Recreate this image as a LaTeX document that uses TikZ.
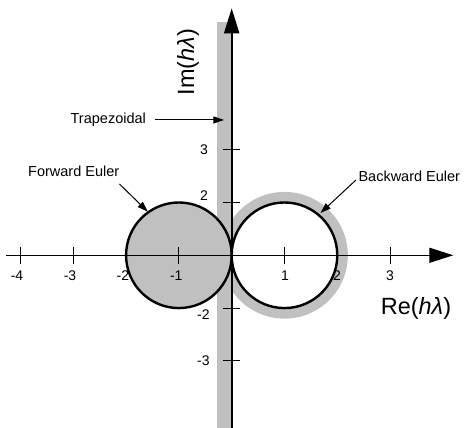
\documentclass[tikz,border=0pt]{standalone}
\usepackage{fontspec}
\setmainfont{Liberation Sans}
\usetikzlibrary{arrows.meta}
\definecolor{regiongray}{RGB}{192,192,192}
\tikzset{
  lbl/.style={inner sep=0pt, font=\fontsize{14.5}{17}\selectfont},
  num/.style={inner sep=0pt, font=\fontsize{14}{16}\selectfont},
  axlbl/.style={inner sep=0pt, font=\fontsize{23.5}{27}\selectfont},
  tickline/.style={line width=1pt},
  pointer/.style={line width=1pt, -{Triangle[length=10.5pt,width=7pt]}},
  boundary/.style={line width=2.4pt, draw=black}
}
\begin{document}
\begin{tikzpicture}[x=52.8pt,y=52.8pt]
\useasboundingbox (-4.388,-3.271) rectangle (4.419,4.835);
% stable regions
\fill[regiongray] (1,0) circle (1.2);
\fill[white] (1,0) circle (1);
\fill[regiongray] (-0.28,-3.4) rectangle (0,4.424);
\filldraw[boundary, fill=regiongray] (-1,0) circle (1);
\draw[boundary] (1,0) circle (1);
% axes
\coordinate (xs) at (-4.275,0);
\coordinate (xe) at (4.197,0);
\coordinate (ys) at (0,-3.4);
\coordinate (ye) at (0,4.678);
\draw[line width=1.3pt, -{Triangle[length=24pt,width=15pt]}] (xs) -- (xe);
\draw[line width=2pt, -{Triangle[length=25pt,width=15pt]}] (ys) -- (ye);
% ticks
\foreach \t in {-4,-3,-2,-1,1,2,3} \draw[tickline] (\t,-0.16) -- (\t,0.16);
\foreach \t in {-2,-1,1,2} \draw[tickline] (-0.17,\t) -- (0.16,\t);
% tick labels
\node[num] (xm4) at (-4.066,-0.392) {-4};
\node[num] (xm3) at (-3.062,-0.392) {-3};
\node[num] (xm2) at (-2.059,-0.392) {-2};
\node[num] (xm1) at (-1.049,-0.392) {-1};
\node[num] (xp1) at (1.009,-0.392) {1};
\node[num] (xp2) at (1.995,-0.392) {2};
\node[num] (xp3) at (2.998,-0.392) {3};
\node[num] (yp3) at (-0.525,1.998) {3};
\node[num] (yp2) at (-0.525,1.129) {2};
\node[num] (ym2) at (-0.537,-1.131) {-2};
\node[num] (ym3) at (-0.537,-2.002) {-3};
% axis labels
\node[axlbl, rotate=90] (im) at (-0.828,3.661) {Im(\textit{hλ})};
\node[axlbl] (re) at (3.490,-1.0) {Re(\textit{hλ})};
% annotations
\node[lbl] (trap) at (-2.337,2.563) {Trapezoidal};
\coordinate (trapt) at (-0.146,2.563);
\draw[pointer] (-1.453,2.563) -- (trapt);
\node[lbl] (fe) at (-2.992,1.597) {Forward Euler};
\coordinate (fes) at (-2.125,1.350);
\coordinate (fet) at (-1.589,0.826);
\draw[pointer] (fes) -- (fet);
\node[lbl] (be) at (3.364,1.489) {Backward Euler};
\coordinate (bes) at (2.354,1.426);
\coordinate (bet) at (1.682,0.801);
\draw[pointer] (bes) -- (bet);
\end{tikzpicture}
\end{document}
